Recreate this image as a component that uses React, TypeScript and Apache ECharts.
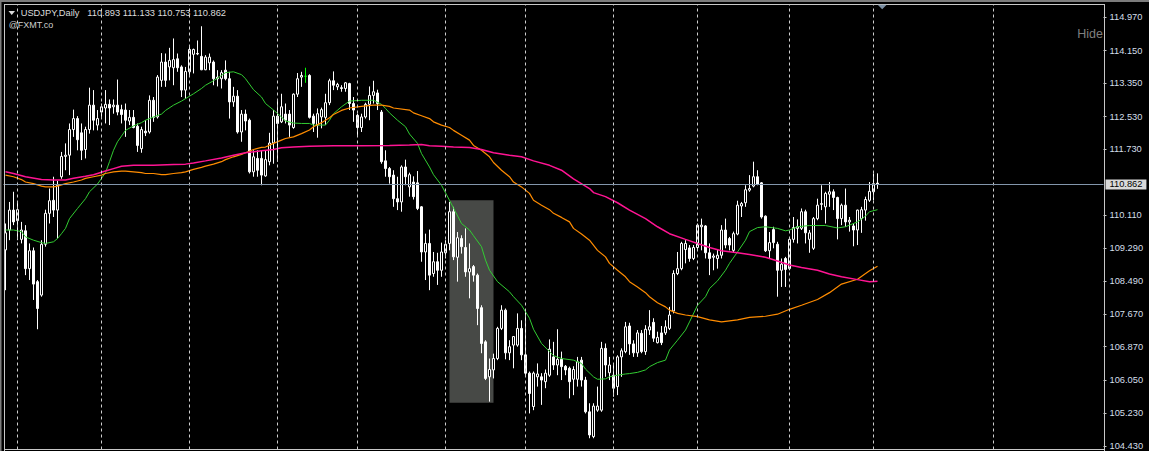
import React, { useEffect, useRef } from "react";
import * as echarts from "echarts";

// ---------- data ----------
const symbolTitle = "USDJPY,Daily";
const lastQuote = ["110.893", "111.133", "110.753", "110.862"];
const brandText = "@FXMT.co";
const hideText = "Hide";
const priceTicks = [114.97, 114.15, 113.35, 112.53, 111.73, 110.11, 109.29, 108.49, 107.67, 106.87, 106.05, 105.23, 104.43];
const currentPrice = 110.862;
const priceMin = 104.343;
const priceMax = 115.285;
const totalSlots = 275;
const monthStartBars = [3, 24, 46, 68, 88, 110, 130, 152, 173, 196, 217, 247];
const dojiGreenBars = [75];
const boxStartBar = 111;
const boxEndBar = 122;
const boxTop = 110.47;
const boxBottom = 105.49;

// [open, close, low, high]
const ohlc: number[][] = [
  [109.25, 109.67, 108.26, 109.9], [109.74, 110.23, 109.49, 110.43], [110.23, 109.94, 109.86, 110.68], [109.97, 110.24, 109.49, 110.43],
  [109.51, 109.74, 109.41, 109.94], [109.72, 108.79, 108.63, 109.86], [108.79, 109.23, 108.51, 109.41], [109.23, 108.41, 108.02, 109.31],
  [108.47, 107.81, 107.3, 108.51], [108.14, 109.39, 108.1, 109.49], [109.39, 110.15, 109.33, 110.24], [110.15, 110.46, 109.9, 110.76],
  [110.47, 110.23, 110.06, 111.05], [110.23, 110.84, 109.53, 110.95], [111.05, 111.55, 111.0, 111.66], [111.55, 111.58, 111.21, 111.87],
  [111.58, 112.21, 111.09, 112.36], [112.21, 112.48, 112.03, 112.7], [112.48, 111.96, 111.7, 112.54], [112.13, 111.7, 111.46, 112.36],
  [111.72, 112.21, 111.5, 112.28], [112.21, 112.81, 112.11, 113.24], [112.81, 112.44, 112.19, 113.18], [112.32, 112.48, 112.19, 112.69],
  [112.64, 112.77, 112.52, 112.85], [112.74, 112.83, 112.36, 113.18], [112.83, 112.74, 112.32, 112.95], [112.77, 112.81, 112.6, 112.95],
  [112.81, 112.64, 112.56, 113.44], [112.7, 112.58, 112.36, 112.82], [112.69, 112.44, 112.03, 112.85], [112.42, 112.51, 112.32, 112.69],
  [112.51, 112.26, 112.24, 112.69], [112.29, 111.82, 111.66, 112.36], [111.74, 112.21, 111.64, 112.28], [112.17, 112.13, 112.05, 112.44],
  [112.15, 112.93, 112.11, 113.05], [112.93, 112.51, 112.4, 113.01], [112.52, 113.5, 112.48, 113.55], [113.42, 113.87, 113.26, 114.09],
  [113.87, 113.42, 113.26, 114.08], [113.75, 113.91, 113.42, 114.22], [113.73, 113.93, 113.3, 114.45], [113.95, 113.73, 113.63, 114.08],
  [113.75, 113.18, 113.01, 113.79], [113.18, 113.64, 112.97, 113.75], [113.63, 114.18, 113.55, 114.28], [114.06, 114.18, 113.59, 114.2],
  [114.08, 114.07, 114.04, 114.4], [114.01, 113.68, 113.67, 114.75], [113.68, 113.99, 113.67, 114.04], [113.85, 113.99, 113.67, 114.08],
  [113.87, 113.46, 113.3, 113.91], [113.46, 113.5, 113.27, 113.67], [113.46, 113.61, 113.22, 113.67], [113.67, 113.46, 113.42, 113.91],
  [113.46, 112.89, 112.48, 113.63], [112.89, 113.03, 112.77, 113.26], [113.03, 112.15, 112.11, 113.18], [112.15, 112.59, 111.91, 112.69],
  [112.59, 112.42, 112.19, 112.7], [112.44, 111.17, 111.13, 112.48], [111.17, 111.54, 111.05, 111.7], [111.5, 111.21, 111.05, 111.7],
  [111.5, 111.09, 110.84, 111.7], [111.07, 111.47, 111.05, 111.7], [111.42, 111.88, 111.33, 112.13], [111.88, 112.54, 111.37, 112.69],
  [112.54, 112.36, 111.42, 112.93], [112.4, 112.77, 112.37, 113.09], [112.59, 112.44, 112.36, 112.85], [112.59, 112.32, 112.03, 112.69],
  [112.26, 113.08, 112.23, 113.1], [113.08, 113.46, 113.01, 113.6], [113.5, 113.54, 113.26, 113.63], [113.52, 113.52, 113.36, 113.73],
  [113.54, 112.51, 112.48, 113.57], [112.54, 112.36, 112.15, 112.6], [112.32, 112.6, 112.01, 112.73], [112.52, 112.7, 112.24, 112.75],
  [112.51, 112.87, 112.32, 113.09], [112.87, 113.41, 112.81, 113.46], [113.41, 113.3, 113.18, 113.64], [113.26, 113.32, 113.18, 113.36],
  [113.24, 113.22, 113.14, 113.3], [113.22, 113.36, 113.14, 113.38], [113.34, 112.85, 112.69, 113.36], [112.85, 112.69, 112.4, 113.01],
  [112.56, 112.26, 112.03, 112.6], [112.26, 112.52, 112.15, 112.6], [112.52, 112.83, 112.48, 112.87], [112.83, 113.05, 112.44, 113.27],
  [113.05, 113.14, 112.85, 113.41], [113.11, 112.85, 112.69, 113.19], [112.64, 111.42, 111.37, 112.69], [111.44, 111.25, 111.05, 111.7],
  [111.25, 111.05, 110.88, 111.29], [111.09, 110.51, 110.31, 111.21], [110.51, 110.43, 110.23, 111.05], [110.43, 111.29, 110.19, 111.33],
  [111.29, 111.05, 110.84, 111.47], [110.8, 111.1, 110.56, 111.15], [110.92, 110.56, 110.49, 111.06], [110.9, 110.27, 110.23, 111.19],
  [110.31, 109.2, 108.96, 110.33], [109.2, 109.41, 108.51, 109.65], [109.41, 108.63, 108.26, 109.75], [108.67, 108.96, 108.59, 109.2],
  [108.96, 108.75, 108.39, 109.18], [108.75, 109.2, 108.59, 109.43], [109.18, 109.39, 109.04, 109.49], [109.41, 110.19, 109.24, 110.43],
  [110.19, 109.08, 109.0, 110.31], [109.07, 109.55, 108.47, 109.69], [109.53, 109.33, 109.16, 109.61], [109.31, 108.71, 108.59, 109.78],
  [108.71, 108.79, 108.06, 109.41], [108.84, 108.63, 108.47, 108.88], [108.63, 107.81, 107.4, 108.67], [107.83, 106.95, 106.71, 107.89],
  [106.99, 106.09, 106.05, 107.03], [106.13, 106.31, 105.52, 106.58], [106.3, 106.58, 106.09, 106.7], [106.58, 107.32, 106.54, 107.36],
  [107.32, 107.77, 107.28, 107.89], [107.77, 106.72, 106.56, 107.81], [106.72, 106.87, 106.54, 107.03], [106.91, 107.12, 106.34, 107.13],
  [106.91, 107.32, 106.87, 107.69], [107.32, 106.67, 106.54, 107.52], [106.67, 106.22, 106.13, 107.77], [106.22, 105.72, 105.23, 106.26],
  [105.4, 106.22, 105.31, 106.26], [106.13, 106.2, 105.89, 106.46], [106.13, 106.05, 105.44, 106.22], [106.01, 106.22, 105.85, 106.31],
  [106.17, 106.81, 106.13, 107.05], [106.62, 106.42, 106.3, 106.99], [106.42, 106.56, 106.17, 107.3], [106.56, 106.38, 106.05, 106.75],
  [106.39, 106.3, 106.17, 106.42], [106.34, 106.01, 105.6, 106.38], [106.07, 106.31, 105.68, 106.39], [106.07, 106.5, 105.89, 106.62],
  [106.54, 106.05, 105.89, 106.62], [106.05, 105.27, 105.23, 106.13], [105.27, 104.7, 104.62, 105.48], [104.66, 105.41, 104.62, 105.48],
  [105.31, 105.41, 105.27, 105.89], [105.31, 106.83, 105.27, 106.99], [106.83, 106.42, 106.13, 106.95], [106.23, 106.42, 106.05, 106.62],
  [106.17, 105.85, 105.64, 106.42], [105.89, 106.62, 105.68, 106.66], [106.62, 106.77, 106.13, 106.83], [106.75, 107.36, 106.71, 107.48],
  [107.38, 106.94, 106.67, 107.46], [106.94, 106.72, 106.62, 107.03], [106.72, 107.21, 106.62, 107.28], [107.2, 106.75, 106.71, 107.28],
  [106.75, 107.3, 106.67, 107.4], [107.28, 107.36, 107.16, 107.77], [107.47, 107.08, 106.99, 107.57], [106.97, 107.1, 106.95, 107.24],
  [107.21, 106.97, 106.91, 107.38], [107.21, 107.36, 107.16, 107.52], [107.32, 107.65, 107.28, 107.85], [107.75, 108.67, 107.69, 108.75],
  [108.67, 108.79, 108.63, 109.2], [108.79, 109.41, 108.75, 109.45], [109.26, 109.41, 108.92, 109.49], [109.3, 109.04, 108.96, 109.37],
  [109.04, 109.31, 109.0, 109.37], [109.31, 109.86, 109.24, 109.9], [109.82, 109.86, 109.24, 110.02], [109.84, 109.18, 109.04, 109.86],
  [109.18, 109.04, 108.63, 109.41], [109.07, 109.1, 108.75, 109.16], [109.04, 109.12, 108.79, 109.26], [109.12, 109.74, 109.04, 109.86],
  [109.74, 109.37, 109.29, 110.02], [109.53, 109.37, 109.24, 109.57], [109.24, 109.65, 109.18, 109.7], [109.64, 110.35, 109.61, 110.46],
  [110.33, 110.39, 110.06, 110.43], [110.41, 110.73, 110.31, 110.84], [110.72, 110.76, 110.68, 111.09], [110.82, 111.05, 110.79, 111.42],
  [111.05, 110.87, 110.84, 111.21], [110.9, 110.06, 110.02, 110.92], [110.08, 109.23, 109.2, 110.1], [109.23, 109.43, 109.04, 109.69],
  [109.75, 109.43, 109.29, 109.82], [109.39, 108.75, 108.1, 109.45], [108.75, 108.9, 108.34, 109.04], [109.04, 108.77, 108.34, 109.08],
  [108.79, 109.51, 108.75, 109.53], [109.51, 109.8, 109.43, 110.06], [109.78, 109.82, 109.41, 110.0], [109.78, 110.19, 109.74, 110.27],
  [110.19, 109.67, 109.41, 110.24], [109.51, 109.67, 109.18, 109.74], [109.29, 110.02, 109.25, 110.06], [110.02, 110.35, 109.98, 110.51],
  [110.37, 110.39, 110.23, 110.84], [110.31, 110.64, 109.9, 110.68], [110.62, 110.68, 110.31, 110.92], [110.68, 110.54, 110.23, 110.74],
  [110.54, 110.02, 109.51, 110.56], [110.02, 110.35, 109.86, 110.39], [110.35, 109.94, 109.82, 110.76], [109.94, 109.98, 109.7, 110.06],
  [109.84, 109.74, 109.34, 109.9], [109.74, 110.23, 109.37, 110.24], [110.02, 110.24, 109.67, 110.31], [110.23, 110.49, 109.97, 110.56],
  [110.47, 110.69, 110.43, 110.92], [110.68, 110.88, 110.47, 111.13], [110.893, 110.862, 110.753, 111.133],
];

// moving averages: [bar index, price]
const maGreen: [number, number][] = [
  [0, 109.74], [2, 109.74], [4, 109.7], [5, 109.57], [7, 109.49], [9, 109.43], [10, 109.41], [12, 109.45], [13, 109.53], [14, 109.65],
  [15, 109.78], [16, 110.02], [18, 110.27], [20, 110.51], [21, 110.68], [23, 110.87], [25, 111.15], [26, 111.42], [27, 111.7], [28, 111.91],
  [29, 112.05], [30, 112.19], [32, 112.3], [34, 112.38], [35, 112.44], [37, 112.52], [39, 112.59], [40, 112.68], [42, 112.81], [44, 112.91],
  [45, 112.97], [47, 113.09], [49, 113.22], [50, 113.3], [52, 113.41], [54, 113.54], [55, 113.61], [57, 113.63], [59, 113.56], [60, 113.46],
  [62, 113.19], [64, 113.01], [65, 112.85], [67, 112.69], [69, 112.52], [70, 112.42], [72, 112.37], [74, 112.36], [76, 112.36], [77, 112.32],
  [80, 112.32], [81, 112.44], [82, 112.6], [84, 112.77], [86, 112.91], [89, 112.93], [92, 112.93], [94, 112.83], [95, 112.73], [96, 112.62],
  [98, 112.44], [100, 112.28], [101, 112.1], [103, 111.87], [104, 111.62], [106, 111.29], [107, 111.1], [109, 110.84], [111, 110.47], [112, 110.28],
  [114, 109.9], [116, 109.74], [117, 109.6], [119, 109.33], [120, 109.0], [121, 108.75], [123, 108.47], [126, 108.22], [127, 108.1], [129, 107.89],
  [131, 107.57], [132, 107.3], [134, 106.95], [136, 106.75], [137, 106.65], [139, 106.58], [142, 106.54], [144, 106.46], [145, 106.32], [147, 106.13],
  [148, 106.07], [150, 106.08], [151, 106.13], [153, 106.17], [155, 106.2], [156, 106.21], [158, 106.24], [160, 106.3], [161, 106.38], [163, 106.48],
  [165, 106.54], [166, 106.79], [168, 107.03], [170, 107.28], [171, 107.48], [173, 107.89], [175, 108.1], [176, 108.3], [178, 108.49], [180, 108.75],
  [181, 108.92], [183, 109.2], [185, 109.49], [186, 109.7], [188, 109.8], [190, 109.82], [193, 109.78], [195, 109.72], [196, 109.74], [198, 109.82],
  [201, 109.85], [205, 109.85], [208, 109.79], [210, 109.82], [211, 109.86], [213, 109.94], [215, 110.08], [216, 110.19], [218, 110.24],
];
const maOrange: [number, number][] = [
  [0, 111.09], [2, 111.05], [4, 110.98], [5, 110.92], [7, 110.88], [9, 110.82], [10, 110.8], [12, 110.8], [13, 110.82], [15, 110.88],
  [17, 110.92], [19, 110.97], [20, 111.01], [22, 111.05], [24, 111.09], [25, 111.13], [27, 111.17], [29, 111.19], [30, 111.19], [32, 111.17],
  [34, 111.15], [35, 111.13], [37, 111.13], [39, 111.1], [40, 111.1], [42, 111.13], [44, 111.15], [45, 111.17], [47, 111.23], [49, 111.28],
  [50, 111.31], [52, 111.36], [54, 111.42], [55, 111.47], [57, 111.54], [59, 111.6], [60, 111.64], [62, 111.72], [64, 111.77], [65, 111.78],
  [67, 111.87], [69, 111.95], [70, 111.99], [72, 112.03], [74, 112.11], [76, 112.2], [77, 112.28], [79, 112.38], [81, 112.5], [82, 112.58],
  [84, 112.68], [86, 112.74], [89, 112.78], [92, 112.81], [94, 112.81], [96, 112.78], [97, 112.74], [101, 112.69], [102, 112.62], [104, 112.55],
  [106, 112.48], [107, 112.4], [109, 112.32], [111, 112.26], [112, 112.19], [114, 112.07], [116, 111.95], [117, 111.82], [119, 111.7], [121, 111.54],
  [122, 111.4], [124, 111.21], [126, 111.05], [127, 110.92], [129, 110.8], [131, 110.64], [132, 110.47], [134, 110.35], [136, 110.24], [137, 110.15],
  [139, 110.05], [141, 109.94], [142, 109.78], [144, 109.64], [146, 109.49], [148, 109.24], [150, 109.08], [151, 108.92], [153, 108.75], [155, 108.59],
  [156, 108.47], [158, 108.34], [160, 108.2], [161, 108.1], [163, 107.95], [165, 107.85], [166, 107.77], [168, 107.69], [170, 107.65], [173, 107.61],
  [176, 107.53], [179, 107.48], [183, 107.53], [186, 107.59], [190, 107.62], [193, 107.67], [196, 107.79], [199, 107.89], [203, 108.03], [206, 108.2],
  [209, 108.41], [213, 108.53], [216, 108.74], [218, 108.85],
];
const maMagenta: [number, number][] = [
  [0, 111.17], [2, 111.13], [5, 111.05], [9, 110.98], [12, 110.97], [15, 110.97], [17, 111.01], [20, 111.06], [22, 111.1], [25, 111.19],
  [27, 111.25], [29, 111.31], [32, 111.33], [37, 111.33], [42, 111.35], [45, 111.36], [47, 111.39], [50, 111.44], [54, 111.51], [57, 111.58],
  [60, 111.64], [64, 111.69], [67, 111.72], [69, 111.76], [72, 111.78], [76, 111.8], [82, 111.81], [89, 111.81], [96, 111.82], [101, 111.83],
  [104, 111.84], [106, 111.81], [109, 111.8], [112, 111.78], [116, 111.77], [119, 111.72], [122, 111.64], [126, 111.58], [129, 111.54], [132, 111.44],
  [136, 111.33], [139, 111.21], [142, 111.0], [146, 110.76], [147, 110.66], [150, 110.56], [153, 110.41], [156, 110.23], [160, 110.02], [163, 109.82],
  [166, 109.65], [170, 109.51], [173, 109.41], [176, 109.31], [179, 109.23], [183, 109.18], [186, 109.14], [190, 109.07], [193, 108.98], [196, 108.88],
  [199, 108.82], [203, 108.75], [206, 108.66], [209, 108.59], [213, 108.52], [216, 108.47], [218, 108.48],
];

// ---------- styling ----------
const FONT = "Liberation Sans, Arial, sans-serif";
const TEXT = "#dcdcdc";
const FRAME = "#c8c8c8";

export default function App() {
  const ref = useRef<HTMLDivElement>(null);

  useEffect(() => {
    if (!ref.current) return;
    const chart = echarts.init(ref.current, undefined, { renderer: "svg" });
    const slots = Array.from({ length: totalSlots }, (_, i) => String(i));
    const candleData = ohlc.map((v, i) =>
      dojiGreenBars.includes(i)
        ? { value: v, itemStyle: { color: "#00ff00", color0: "#00ff00", borderColor: "#00ff00", borderColor0: "#00ff00" } }
        : v
    );

    const txt = (text: string, x: number, y: number, size: number, fill: string, align = "left") => ({
      type: "text",
      silent: true,
      x,
      y,
      z: 10,
      style: {
        text,
        fill,
        fontSize: size,
        fontFamily: FONT,
        align,
        verticalAlign: "middle",
      },
    });

    const option: any = {
      animation: false,
      backgroundColor: "#000000",
      grid: { left: 3.5, right: 45.5, top: 4.5, bottom: 1.5, containLabel: false },
      xAxis: {
        type: "category",
        data: slots,
        boundaryGap: true,
        axisLine: { show: false },
        axisTick: { show: false },
        axisLabel: { show: false },
        splitLine: { show: false },
      },
      yAxis: {
        type: "value",
        position: "right",
        min: priceMin,
        max: priceMax,
        axisLine: { show: false },
        axisTick: { show: true, length: 3, customValues: priceTicks, lineStyle: { color: FRAME, width: 1 } },
        axisLabel: {
          show: true,
          customValues: priceTicks,
          formatter: (v: number) => v.toFixed(3),
          color: "#d4dfea",
          fontSize: 9.3,
          fontFamily: FONT,
          margin: 6,
        },
        splitLine: { show: false },
      },
      series: [
        {
          name: "grid",
          type: "line",
          data: [],
          z: 1,
          silent: true,
          markLine: {
            silent: true,
            symbol: ["none", "none"],
            label: { show: false },
            emphasis: { disabled: true },
            lineStyle: { color: "#cfcfcf", type: [3, 3], width: 1 },
            data: monthStartBars.map((b) => ({ xAxis: b })),
          },
        },
        {
          name: "box",
          type: "line",
          data: [],
          z: 1,
          silent: true,
          markArea: {
            silent: true,
            itemStyle: { color: "#474946" },
            emphasis: { disabled: true },
            data: [[{ xAxis: boxStartBar, yAxis: boxTop }, { xAxis: boxEndBar, yAxis: boxBottom }]],
          },
        },
        {
          name: "price",
          type: "line",
          data: [],
          z: 2,
          silent: true,
          markLine: {
            silent: true,
            symbol: ["none", "none"],
            emphasis: { disabled: true },
            lineStyle: { color: "#8396ab", type: "solid", width: 1 },
            label: {
              show: true,
              position: "end",
              distance: 2,
              formatter: () => currentPrice.toFixed(3),
              color: "#000000",
              backgroundColor: "#d9d9d9",
              padding: [1, 4, 0, 4],
              fontSize: 9.3,
              fontFamily: FONT,
            },
            data: [{ yAxis: currentPrice }],
          },
        },
        {
          name: "USDJPY",
          type: "candlestick",
          data: candleData,
          barWidth: 2,
          z: 3,
          silent: true,
          itemStyle: {
            color: "#000000",
            color0: "#ffffff",
            borderColor: "#ffffff",
            borderColor0: "#ffffff",
            borderWidth: 1,
          },
        },
        {
          name: "MA fast",
          type: "line",
          data: maGreen,
          showSymbol: false,
          symbol: "none",
          silent: true,
          z: 4,
          lineStyle: { color: "#32cd32", width: 1 },
        },
        {
          name: "MA mid",
          type: "line",
          data: maOrange,
          showSymbol: false,
          symbol: "none",
          silent: true,
          z: 4,
          lineStyle: { color: "#ff8c00", width: 1.2 },
        },
        {
          name: "MA slow",
          type: "line",
          data: maMagenta,
          showSymbol: false,
          symbol: "none",
          silent: true,
          z: 4,
          lineStyle: { color: "#ff1493", width: 1.5 },
        },
      ],
      graphic: [
        { type: "rect", silent: true, shape: { x: 0, y: 0, width: 1149, height: 2 }, style: { fill: "#7c7c7c" }, z: 10 },
        { type: "rect", silent: true, shape: { x: 0, y: 0, width: 1.5, height: 451 }, style: { fill: "#7c7c7c" }, z: 10 },
        { type: "line", silent: true, shape: { x1: 4, y1: 4.5, x2: 1104.5, y2: 4.5 }, style: { stroke: FRAME, lineWidth: 1 }, z: 10 },
        { type: "line", silent: true, shape: { x1: 4.5, y1: 4, x2: 4.5, y2: 451 }, style: { stroke: FRAME, lineWidth: 1 }, z: 10 },
        { type: "line", silent: true, shape: { x1: 4, y1: 449.5, x2: 1104.5, y2: 449.5 }, style: { stroke: FRAME, lineWidth: 1 }, z: 10 },
        { type: "line", silent: true, shape: { x1: 1104.5, y1: 4, x2: 1104.5, y2: 451 }, style: { stroke: FRAME, lineWidth: 1 }, z: 10 },
        { type: "polygon", silent: true, shape: { points: [[8.5, 11], [15, 11], [11.75, 15]] }, style: { fill: TEXT }, z: 10 },
        txt(symbolTitle, 20.7, 12.7, 9.3, TEXT),
        txt(lastQuote.join(" "), 87.3, 12.7, 9.3, TEXT),
        txt(brandText, 8.7, 25.3, 9, "#cfcfcf"),
        txt(hideText, 1103, 34, 12.5, "#7f7f7f", "right"),
        { type: "polygon", silent: true, shape: { points: [[877.7, 4.7], [886.7, 4.7], [882.2, 9.3]] }, style: { fill: "#7b8fa3" }, z: 10 },
      ],
    };

    chart.setOption(option);
    return () => chart.dispose();
  }, []);

  return (
    <div
      ref={ref}
      style={{ position: "fixed", left: 0, top: 0, width: 1149, height: 451, background: "#000000" }}
    />
  );
}
